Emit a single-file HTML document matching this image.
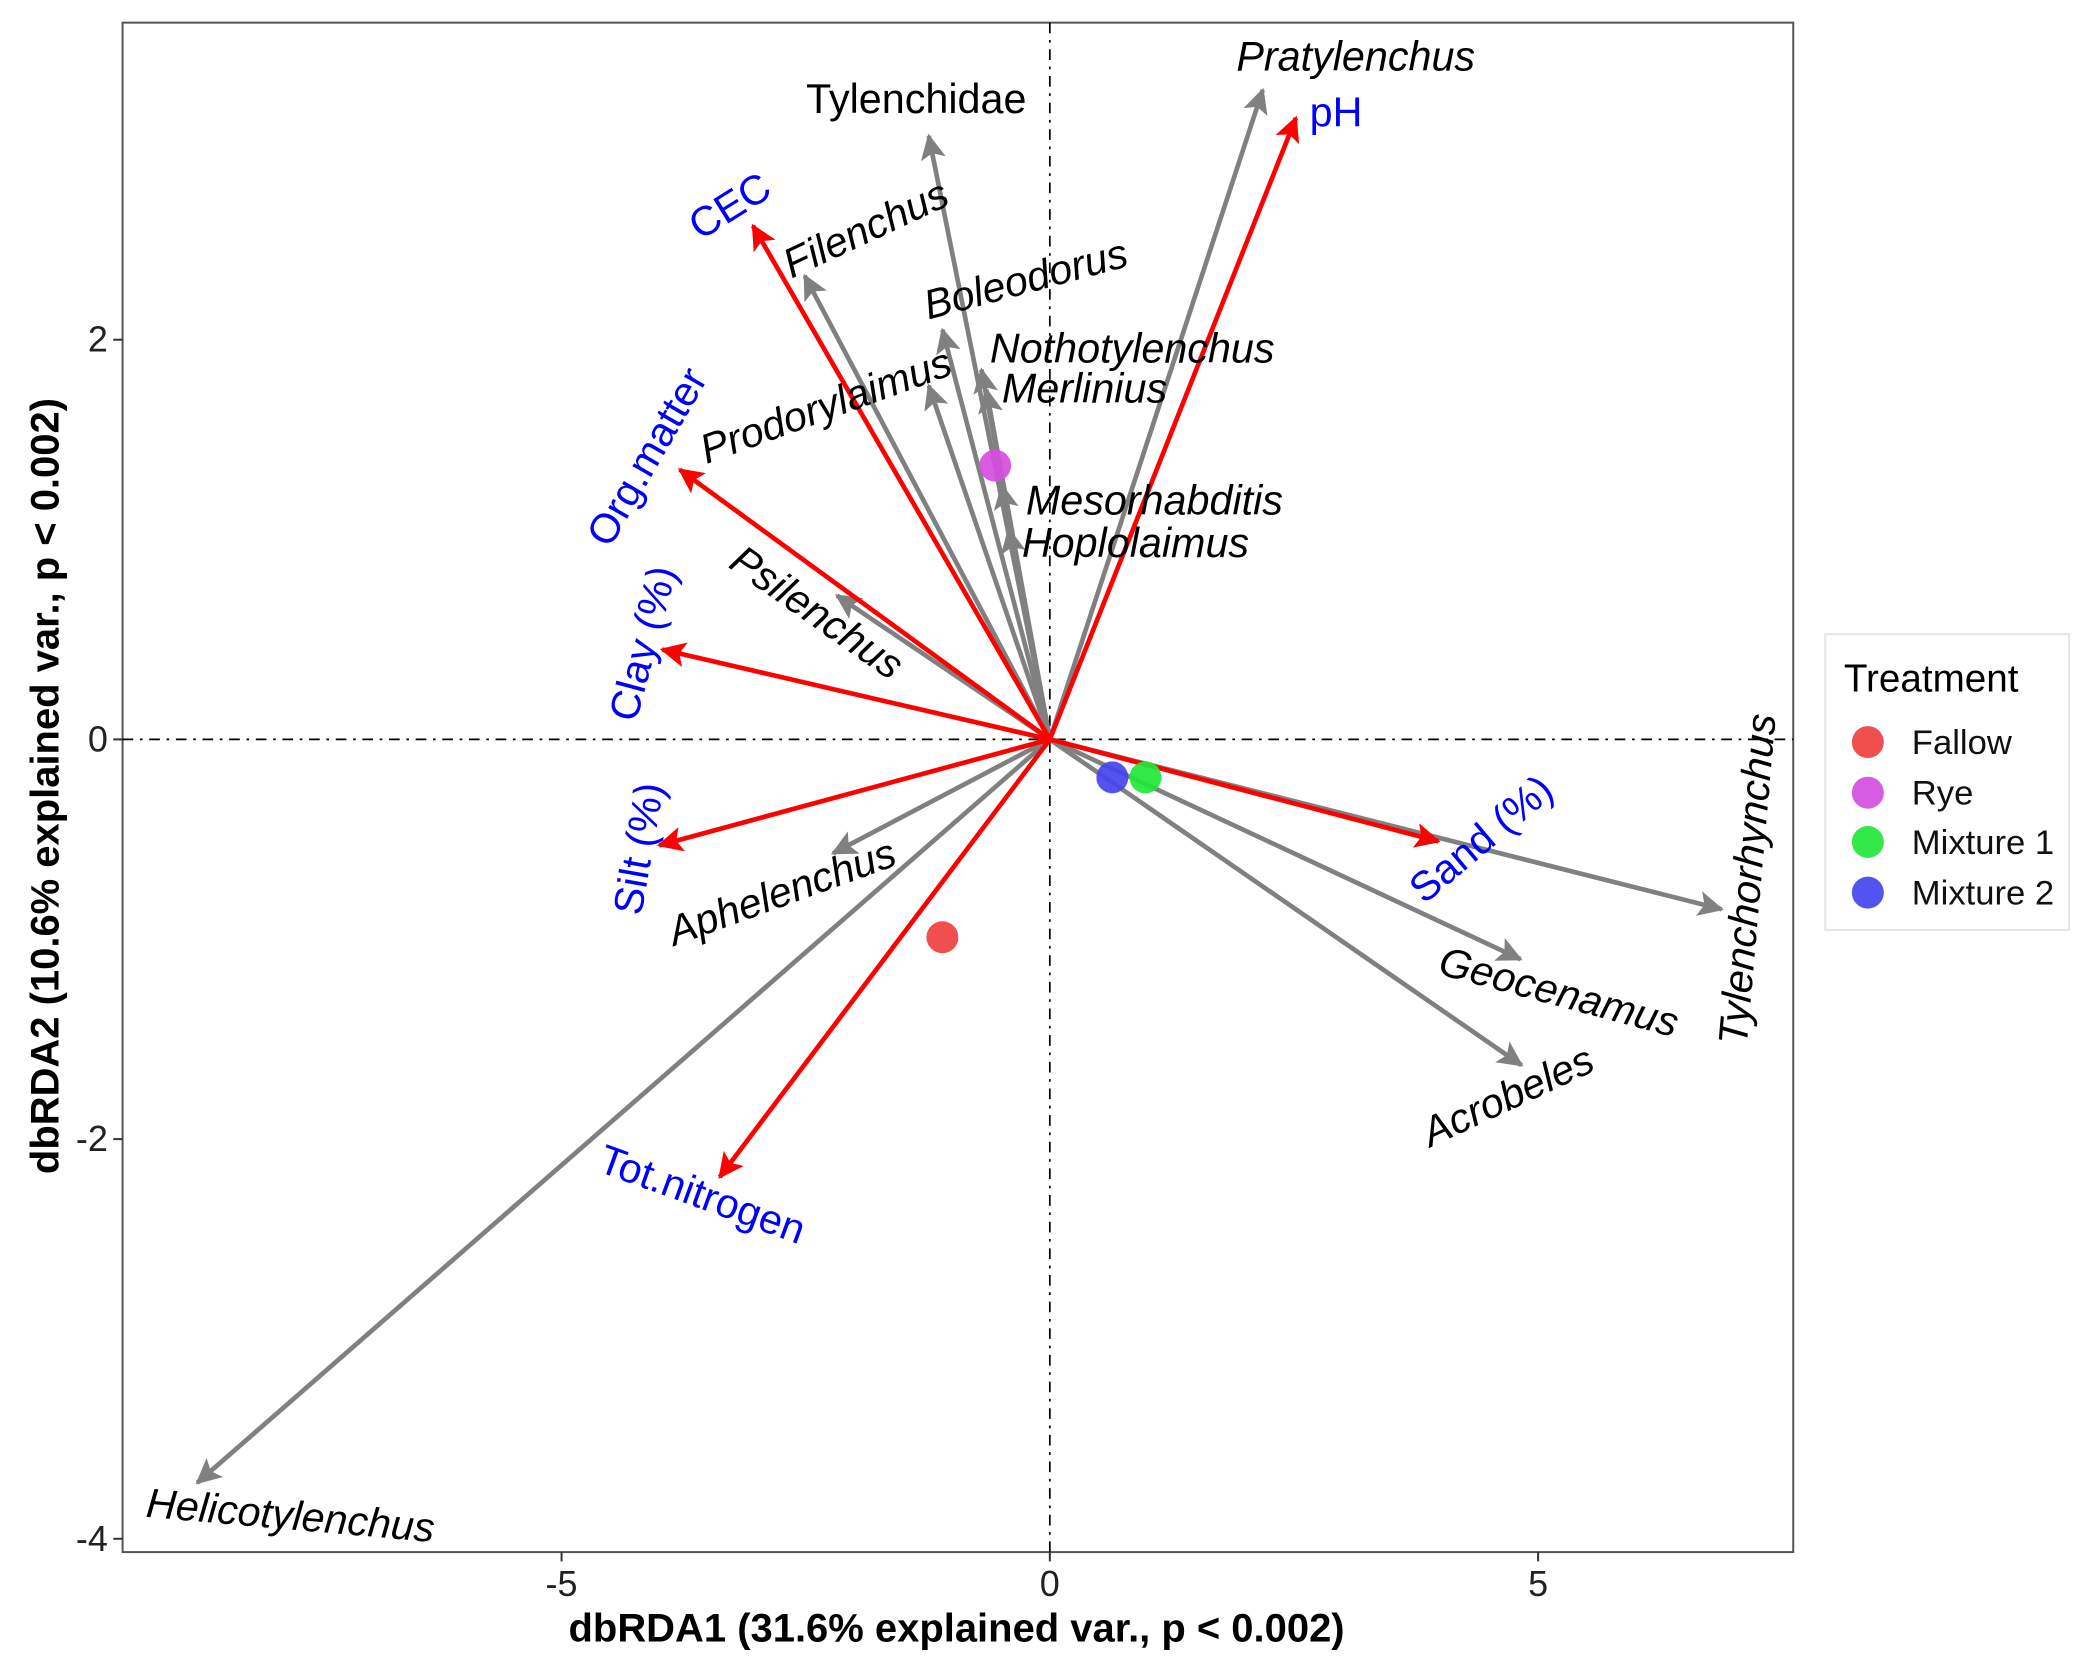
<!DOCTYPE html>
<html><head><meta charset="utf-8"><style>
html,body{margin:0;padding:0;background:#fff;}
svg{display:block;}
text{font-family:"Liberation Sans",Arial,sans-serif;}
#labels text{font-size:31px;}
</style></head><body>
<svg id="chart" width="2089" height="1672" viewBox="0 0 1568 1255" preserveAspectRatio="none" xmlns="http://www.w3.org/2000/svg">
<defs>
<marker id="ag" markerWidth="6" markerHeight="6" refX="5" refY="3" orient="auto" markerUnits="strokeWidth"><path d="M0,0.3 L5.5,3 L0,5.7 L1.2,3 Z" fill="#808080"/></marker>
<marker id="ar" markerWidth="6" markerHeight="6" refX="5" refY="3" orient="auto" markerUnits="strokeWidth"><path d="M0,0.3 L5.5,3 L0,5.7 L1.2,3 Z" fill="#ff0000"/></marker>
</defs>
<rect x="92" y="17" width="1254" height="1148" fill="#fff" stroke="#555" stroke-width="1.5"/>
<g id="axes"></g>
<g id="arrows"></g>
<g id="points"></g>
<g id="labels">
<text x="928" y="53" font-style="italic">Pratylenchus</text>
<text x="983" y="95" fill="#0000ff">pH</text>
<text x="605" y="85">Tylenchidae</text>
<text x="548" y="165" fill="#0000ff" text-anchor="middle" transform="rotate(-32 548 155)">CEC</text>
<text x="650" y="182" font-style="italic" text-anchor="middle" transform="rotate(-25 650 172)">Filenchus</text>
<text x="770" y="220" font-style="italic" text-anchor="middle" transform="rotate(-15 770 210)">Boleodorus</text>
<text x="743" y="272" font-style="italic">Nothotylenchus</text>
<text x="752" y="302" font-style="italic">Merlinius</text>
<text x="620" y="315" font-style="italic" text-anchor="middle" transform="rotate(-20 620 305)">Prodorylaimus</text>
<text x="486" y="353" fill="#0000ff" text-anchor="middle" transform="rotate(-60 486 343)">Org.matter</text>
<text x="770" y="386" font-style="italic">Mesorhabditis</text>
<text x="767" y="418" font-style="italic">Hoplolaimus</text>
<text x="613" y="470" font-style="italic" text-anchor="middle" transform="rotate(35 613 460)">Psilenchus</text>
<text x="483" y="493" fill="#0000ff" text-anchor="middle" transform="rotate(-75 483 483)">Clay (%)</text>
<text x="480" y="647" fill="#0000ff" text-anchor="middle" transform="rotate(-80 480 637)">Silt (%)</text>
<text x="587" y="680" font-style="italic" text-anchor="middle" transform="rotate(-20 587 670)">Aphelenchus</text>
<text x="527" y="907" fill="#0000ff" text-anchor="middle" transform="rotate(20 527 897)">Tot.nitrogen</text>
<text x="218" y="1148" font-style="italic" text-anchor="middle" transform="rotate(5 218 1138)">Helicotylenchus</text>
<text x="1112" y="640" fill="#0000ff" text-anchor="middle" transform="rotate(-40 1112 630)">Sand (%)</text>
<text x="1312" y="670" font-style="italic" text-anchor="middle" transform="rotate(-85 1312 660)">Tylenchorhynchus</text>
<text x="1170" y="755" font-style="italic" text-anchor="middle" transform="rotate(15 1170 745)">Geocenamus</text>
<text x="1132" y="833" font-style="italic" text-anchor="middle" transform="rotate(-25 1132 823)">Acrobeles</text>
</g>
<text x="718" y="1232" font-size="30" font-weight="bold" text-anchor="middle">dbRDA1 (31.6% explained var., p &lt; 0.002)</text>
<text x="0" y="0" font-size="30" font-weight="bold" text-anchor="middle" transform="translate(44 590) rotate(-90)">dbRDA2 (10.6% explained var., p &lt; 0.002)</text>
<g>
<rect x="1370" y="476" width="183" height="222" fill="#fff" stroke="#e5e5e5" stroke-width="1.5"/>
<text x="1384" y="519" font-size="29">Treatment</text>
<g id="legend-entries"></g>
</g>
</svg>
<script>
// Data
const taxa = ["Pratylenchus","Tylenchidae","Filenchus","Boleodorus","Nothotylenchus","Prodorylaimus","Merlinius","Mesorhabditis","Hoplolaimus","Psilenchus","Aphelenchus","Helicotylenchus","Tylenchorhynchus","Geocenamus","Acrobeles"];
const taxaX = [2.18,-1.24,-2.51,-1.10,-0.70,-1.24,-0.65,-0.49,-0.42,-2.18,-2.22,-8.73,6.88,4.82,4.83];
const taxaY = [3.25,3.02,2.32,2.05,1.85,1.77,1.75,1.27,1.05,0.72,-0.57,-3.72,-0.85,-1.10,-1.63];
const envVars = ["pH","CEC","Org.matter","Clay","Silt","Tot.nitrogen","Sand"];
const envX = [2.52,-3.04,-3.79,-3.97,-4.00,-3.38,3.98];
const envY = [3.11,2.57,1.35,0.45,-0.53,-2.19,-0.51];
const treatments = ["Fallow","Rye","Mixture 1","Mixture 2"];
const treatX = [-1.10,-0.56,0.98,0.64];
const treatY = [-0.99,1.37,-0.19,-0.19];
const treatColors = ["#f04040","#d44ee0","#22e63a","#4444ee"];
const xTicks = [-5,0,5];
const yTicks = [2,0,-2,-4];

const NS="http://www.w3.org/2000/svg";
const sx = v => 788 + v*73.3;
const sy = v => 555 - v*150;
function mk(tag, attrs, parent){const e=document.createElementNS(NS,tag);for(const k in attrs)e.setAttribute(k,attrs[k]);parent.appendChild(e);return e;}
const axes=document.getElementById('axes');
let l=mk('line',{x1:sx(0),y1:17,x2:sx(0),y2:1165,stroke:'#000','stroke-width':1.3,'stroke-dasharray':'8 5 2 5'},axes);


l=mk('line',{x1:92,y1:sy(0),x2:1346,y2:sy(0),stroke:'#000','stroke-width':1.3,'stroke-dasharray':'8 5 2 5'},axes);


xTicks.forEach(t=>{
  const tk=mk('line',{x1:sx(t),y1:1165,x2:sx(t),y2:1172,stroke:'#333','stroke-width':1.5},axes);
  
  
  const tx=mk('text',{x:sx(t),y:1198,'font-size':27,'text-anchor':'middle',fill:'#222'},axes);
  tx.textContent=t;
  
  
});
yTicks.forEach(t=>{
  const tk=mk('line',{x1:85,y1:sy(t),x2:92,y2:sy(t),stroke:'#333','stroke-width':1.5},axes);
  
  
  const tx=mk('text',{x:81,y:sy(t)+9,'font-size':27,'text-anchor':'end',fill:'#222'},axes);
  tx.textContent=t;
  
  
});
const arrows=document.getElementById('arrows');
taxa.forEach((n,i)=>{
  const a=mk('line',{x1:sx(0),y1:sy(0),x2:sx(taxaX[i]),y2:sy(taxaY[i]),stroke:'#808080','stroke-width':3.5,'marker-end':'url(#ag)'},arrows);
  
  
});
envVars.forEach((n,i)=>{
  const a=mk('line',{x1:sx(0),y1:sy(0),x2:sx(envX[i]),y2:sy(envY[i]),stroke:'#ff0000','stroke-width':3.5,'marker-end':'url(#ar)'},arrows);
  
  
});
const pts=document.getElementById('points');
treatments.forEach((n,i)=>{
  const c=mk('circle',{cx:sx(treatX[i]),cy:sy(treatY[i]),r:12,fill:treatColors[i],'fill-opacity':0.92},pts);
  
  
});
const leg=document.getElementById('legend-entries');
const legY=[557,595,632,670];
treatments.forEach((n,i)=>{
  const c=mk('circle',{cx:1402,cy:legY[i],r:12,fill:treatColors[i],'fill-opacity':0.92},leg);
  
  
  const t=mk('text',{x:1435,y:legY[i]+9,'font-size':26,fill:'#111'},leg);
  t.textContent=n;
  
  
});
</script>
</body></html>
